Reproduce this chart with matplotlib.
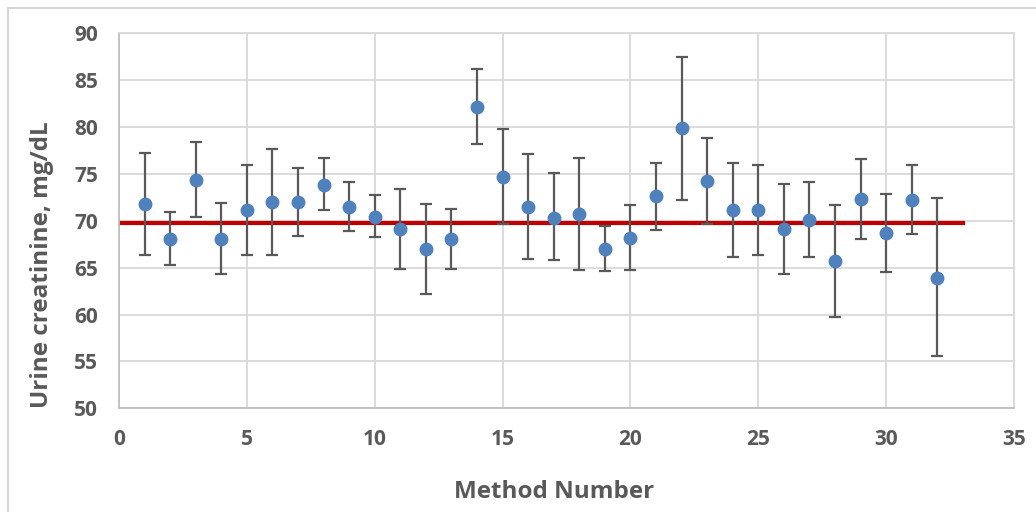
import matplotlib.pyplot as plt
from matplotlib.lines import Line2D

methods = list(range(1, 33))
means = [71.8, 68.1, 74.4, 68.1, 71.1, 72.0, 72.0, 73.8, 71.5, 70.4,
         69.1, 67.0, 68.1, 82.1, 74.7, 71.5, 70.3, 70.7, 67.0, 68.2,
         72.6, 79.9, 74.2, 71.1, 71.2, 69.1, 70.1, 65.7, 72.3, 68.7,
         72.2, 63.9]
upper = [77.2, 70.9, 78.4, 71.9, 76.0, 77.7, 75.6, 76.7, 74.1, 72.7,
         73.4, 71.8, 71.3, 86.2, 79.8, 77.1, 75.1, 76.7, 69.4, 71.7,
         76.2, 87.5, 78.8, 76.2, 76.0, 73.9, 74.1, 71.7, 76.6, 72.9,
         75.9, 72.4]
lower = [66.4, 65.3, 70.4, 64.3, 66.3, 66.4, 68.4, 71.1, 68.9, 68.3,
         64.9, 62.2, 64.9, 78.2, 69.7, 65.9, 65.8, 64.7, 64.6, 64.8,
         69.0, 72.2, 69.7, 66.1, 66.4, 64.3, 66.1, 59.7, 68.1, 64.5,
         68.6, 55.6]

ref_value = 69.8
ref_span = [0, 33]

err_lo = [m - l for m, l in zip(means, lower)]
err_hi = [u - m for m, u in zip(means, upper)]

text_col = '#595959'
grid_col = '#d9d9d9'

fig = plt.figure(figsize=(10.36, 5.12), dpi=100)
ax = fig.add_axes([119 / 1036, 1 - 408.3 / 512, 895 / 1036, 375 / 512])

ax.plot(ref_span, [ref_value, ref_value], color='#c00000', linewidth=3, zorder=2)
ax.errorbar(methods, means, yerr=[err_lo, err_hi], fmt='o', color='#4f81bd',
            markersize=9, ecolor='#595959', elinewidth=1.6, capsize=4,
            capthick=1.6, zorder=3)

ax.set_xlim(0, 35)
ax.set_ylim(50, 90)
ax.set_xticks(range(0, 36, 5))
ax.set_yticks(range(50, 91, 5))
ax.grid(True, color=grid_col, linewidth=1.3)
ax.set_axisbelow(True)
for s in ax.spines.values():
    s.set_color(grid_col)
    s.set_linewidth(1.3)
ax.spines['left'].set_color('#bfbfbf')
ax.spines['bottom'].set_color('#bfbfbf')
ax.tick_params(length=0, colors=text_col, labelsize=15)
ax.tick_params(axis='y', pad=15)
ax.tick_params(axis='x', pad=15)
for lbl in ax.get_xticklabels() + ax.get_yticklabels():
    lbl.set_fontweight('bold')
    lbl.set_family('Open Sans')

ax.set_xlabel('Method Number', fontsize=17.5, fontweight='bold', color=text_col,
              family='Open Sans')
ax.set_ylabel('Urine creatinine, mg/dL', fontsize=17.5, fontweight='bold',
              color=text_col, family='Open Sans')
ax.xaxis.set_label_coords((554 - 119) / 895, (408.3 - 480) / 375)
ax.yaxis.set_label_coords((54 - 119) / 895, (408.3 - 265) / 375)

# chart area border (left and top edges visible)
fig.add_artist(Line2D([8 / 1036, 8 / 1036], [0, 1 - 8 / 512], color='#d0d0d0', linewidth=1.2))
fig.add_artist(Line2D([8 / 1036, 1], [1 - 8 / 512, 1 - 8 / 512], color='#d0d0d0', linewidth=1.2))

fig.savefig('out.png', dpi=100)
